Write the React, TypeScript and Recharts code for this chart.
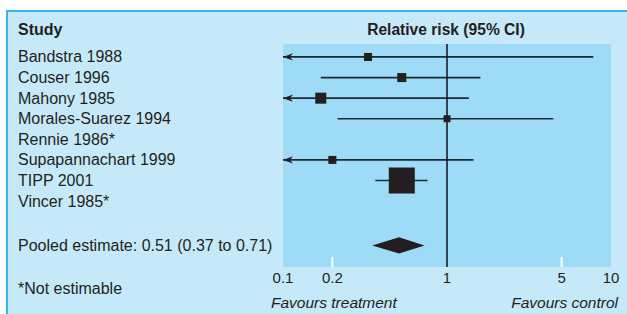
import React from 'react';
import {
  ComposedChart,
  XAxis,
  YAxis,
  CartesianGrid,
  Line,
  Scatter,
  Area,
  ReferenceLine,
} from 'recharts';

// ---------- data ----------
const studies = [
  'Bandstra 1988',
  'Couser 1996',
  'Mahony 1985',
  'Morales-Suarez 1994',
  'Rennie 1986*',
  'Supapannachart 1999',
  'TIPP 2001',
  'Vincer 1985*',
];
const relRisk = [0.33, 0.53, 0.17, 1.0, null, 0.2, 0.53, null];
const lowerCI = [0.03, 0.17, 0.03, 0.215, null, 0.03, 0.366, null];
const upperCI = [7.8, 1.6, 1.36, 4.45, null, 1.45, 0.76, null];
const weights = [6.1, 7.7, 11.5, 4.6, null, 6.1, 64, null];

const pooledEst = 0.51;
const pooledLow = 0.35;
const pooledHigh = 0.73;
const pooledLabel = 'Pooled estimate: 0.51 (0.37 to 0.71)';

const xTicks = [0.1, 0.2, 1, 5, 10];
const minorTicks = [0.2, 5];

// ---------- layout / style ----------
const W = 627;
const H = 314;
const AXIS_MIN = 0.1;
const AXIS_MAX = 10;
const POOLED_ROW = 9.15;
const DIAMOND_HALF = 0.4;
const SQUARE_SCALE = 3.25;
const FONT = "'Liberation Sans', Arial, Helvetica, sans-serif";
const INK = '#231f20';
const LINE = '#1f2b33';

const rows = studies.map((name, i) => ({
  name,
  row: i,
  rr: relRisk[i],
  lo: lowerCI[i],
  hi: upperCI[i],
  w: weights[i],
}));
const estimable = rows.filter((d) => d.rr != null);
const squares = estimable.map((d) => ({ x: d.rr, y: d.row, w: d.w }));
const arrows = estimable
  .filter((d) => (d.lo as number) < AXIS_MIN)
  .map((d) => ({ x: AXIS_MIN, y: d.row }));
const ciLines = estimable.map((d) => [
  { x: Math.max(d.lo as number, AXIS_MIN), y: d.row },
  { x: d.hi as number, y: d.row },
]);
const diamond = [
  { x: pooledLow, band: [POOLED_ROW, POOLED_ROW] },
  { x: pooledEst, band: [POOLED_ROW - DIAMOND_HALF, POOLED_ROW + DIAMOND_HALF] },
  { x: pooledHigh, band: [POOLED_ROW, POOLED_ROW] },
];
const yTicks = [...studies.map((_, i) => i), POOLED_ROW];
const rowLabel = (v: number) => (v === POOLED_ROW ? pooledLabel : studies[v]);

const Square = (props: any) => {
  const { cx, cy, payload } = props;
  if (cx == null || cy == null) return null;
  const s = SQUARE_SCALE * Math.sqrt(payload.w);
  return <rect x={cx - s / 2} y={cy - s / 2} width={s} height={s} fill={INK} />;
};

const Arrow = (props: any) => {
  const { cx, cy } = props;
  if (cx == null || cy == null) return null;
  return (
    <path
      d={`M${cx},${cy} L${cx + 10},${cy - 3.6} L${cx + 7},${cy} L${cx + 10},${cy + 3.6} Z`}
      fill={INK}
    />
  );
};

const RowTick = (props: any) => {
  const { y, payload } = props;
  return (
    <text x={18} y={y} dy={5.5} fontSize={16} fill={INK} fontFamily={FONT} textAnchor="start">
      {rowLabel(payload.value)}
    </text>
  );
};

const XTick = (props: any) => {
  const { x, y, payload } = props;
  return (
    <g>
      {minorTicks.includes(payload.value) && (
        <line x1={x} x2={x} y1={y - 10} y2={y} stroke="#ffffff" strokeWidth={2} />
      )}
      <text x={x} y={y} dy={16} fontSize={15} fill={INK} fontFamily={FONT} textAnchor="middle">
        {payload.value}
      </text>
    </g>
  );
};

export default function App() {
  return (
    <div
      style={{
        position: 'absolute',
        left: 0,
        top: 0,
        width: W,
        height: H,
        background: '#ffffff',
        overflow: 'hidden',
        fontFamily: FONT,
      }}
    >
      <div
        style={{
          position: 'absolute',
          left: 6,
          top: 10,
          width: W,
          height: H,
          background: '#c6e9f9',
          borderLeft: '2px solid #3db5ea',
          borderTop: '2px solid #3db5ea',
        }}
      />
      <div style={{ position: 'absolute', left: 0, top: 0 }}>
        <ComposedChart
          width={W}
          height={H}
          margin={{ top: 44, right: 16, bottom: 17, left: 0 }}
        >
          <CartesianGrid fill="#9ddbf6" horizontal={false} vertical={false} stroke="none" />
          <XAxis
            type="number"
            dataKey="x"
            scale="log"
            domain={[AXIS_MIN, AXIS_MAX]}
            allowDataOverflow
            ticks={xTicks}
            interval={0}
            height={30}
            axisLine={false}
            tickLine={false}
            tickSize={0}
            tickMargin={0}
            tick={<XTick />}
          />
          <YAxis
            type="number"
            dataKey="y"
            domain={[-0.63, 10.2]}
            allowDataOverflow
            reversed
            ticks={yTicks}
            interval={0}
            width={283}
            axisLine={false}
            tickLine={false}
            tick={<RowTick />}
          />
          {ciLines.map((seg, i) => (
            <Line
              key={i}
              data={seg}
              dataKey="y"
              type="linear"
              stroke={LINE}
              strokeWidth={1.7}
              dot={false}
              activeDot={false}
              isAnimationActive={false}
            />
          ))}
          <Area
            data={diamond}
            dataKey="band"
            type="linear"
            stroke="none"
            fill={INK}
            fillOpacity={1}
            isAnimationActive={false}
          />
          <ReferenceLine x={1} stroke="#111111" strokeWidth={1.5} />
          <Scatter data={squares} shape={<Square />} isAnimationActive={false} />
          <Scatter data={arrows} shape={<Arrow />} isAnimationActive={false} />
        </ComposedChart>
      </div>
      <svg
        width={W}
        height={H}
        style={{ position: 'absolute', left: 0, top: 0, pointerEvents: 'none' }}
      >
        <text x={18} y={35} fontSize={16} fontWeight="bold" fill={INK} fontFamily={FONT}>
          Study
        </text>
        <text
          x={446}
          y={35}
          fontSize={15.6}
          fontWeight="bold"
          fill={INK}
          fontFamily={FONT}
          textAnchor="middle"
        >
          Relative risk (95% CI)
        </text>
        <text x={18} y={294} fontSize={16} fill={INK} fontFamily={FONT}>
          *Not estimable
        </text>
        <text x={271} y={308} fontSize={15.5} fontStyle="italic" fill={INK} fontFamily={FONT}>
          Favours treatment
        </text>
        <text
          x={618}
          y={308}
          fontSize={15.5}
          fontStyle="italic"
          fill={INK}
          fontFamily={FONT}
          textAnchor="end"
        >
          Favours control
        </text>
      </svg>
    </div>
  );
}
